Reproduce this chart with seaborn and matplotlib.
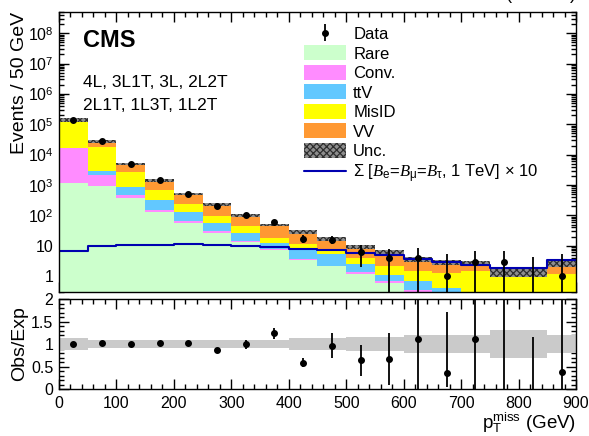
import matplotlib
matplotlib.use("Agg")
import matplotlib.pyplot as plt
from matplotlib.patches import Patch
from matplotlib.lines import Line2D
from matplotlib.ticker import MultipleLocator, LogLocator, FixedLocator, NullFormatter
import seaborn as sns
import numpy as np
import pandas as pd

# bin edges in p_T^miss (GeV)
edges = np.arange(0, 950, 50)
centers = edges[:-1] + 25

# stacked backgrounds (events per bin), bottom to top
rare = [1150, 950, 370, 133, 58, 27, 13, 7.1, 3.4, 2.1, 1.2, 0.6, 0.3, 0.05, 0.05, 0.0, 0.0, 0.0]
conv = [15800, 1200, 85, 17, 8, 3, 1.3, 0.5, 0.2, 0.1, 0.2, 0.1, 0.05, 0.0, 0.0, 0.0, 0.0, 0.0]
ttv = [200, 800, 435, 180, 64, 27, 12.7, 5.0, 4.5, 3.0, 1.1, 0.4, 0.35, 0.35, 0.2, 0.05, 0.0, 0.05]
misid = [118000, 15000, 1870, 370, 114, 41, 17, 5.8, 3.0, 2.4, 1.6, 1.0, 0.8, 0.9, 1.2, 1.35, 1.4, 1.1]
vv = [5000, 9500, 2300, 700, 260, 130, 56, 30, 18, 9.1, 5.3, 4.0, 2.1, 1.6, 1.25, 0.0, 0.0, 1.45]

# signal x 10
signal = [6.7, 10.2, 10.3, 10.8, 11.2, 10.5, 9.8, 9.3, 8.0, 7.1, 5.9, 5.0, 3.6, 3.0, 2.3, 1.9, 1.8, 3.4]

# observed data and its error bars as drawn
data = [140000, 28000, 5100, 1420, 515, 198, 100, 60, 17, 16, 6, 4, 4, 1, 3, 3, 0, 1]
data_err_lo = [370, 170, 70, 38, 23, 14, 10, 7.7, 4.5, 4.8, 4, 4, 4, 1, 3, 3, 0, 1]
data_err_hi = [370, 170, 70, 38, 23, 14, 10, 7.7, 5.4, 4.4, 4.3, 3.7, 4.6, 4.2, 3.7, 3.7, 4.4, 4.2]

# ratio panel error bars and relative background uncertainty
ratio_err_lo = [0.01, 0.01, 0.01, 0.01, 0.01, 0.01, 0.1, 0.12, 0.1, 0.26, 0.36, 0.57, 1.11, 0.31, 1.11, 2.14, 0.0, 0.38]
ratio_err_hi = [0.01, 0.01, 0.01, 0.01, 0.01, 0.01, 0.1, 0.12, 0.1, 0.29, 0.33, 0.59, 1.5, 1.37, 1.5, 1.0, 1.16, 1.6]
rel_unc = [0.13, 0.09, 0.09, 0.09, 0.09, 0.09, 0.09, 0.09, 0.13, 0.13, 0.16, 0.16, 0.21, 0.21, 0.21, 0.31, 0.31, 0.21]

processes = ["Rare", "Conv.", "ttV", "MisID", "VV"]
colors = {"Rare": "#ccffcc", "Conv.": "#ff8cff", "ttV": "#62c8ff",
          "MisID": "#ffff00", "VV": "#ff9933"}

sns.set_theme(style="ticks")
plt.rcParams["font.family"] = ["Liberation Sans", "DejaVu Sans"]
plt.rcParams["mathtext.fontset"] = "custom"
plt.rcParams["mathtext.rm"] = "Liberation Sans"
plt.rcParams["mathtext.it"] = "Liberation Serif:italic"
plt.rcParams["hatch.linewidth"] = 0.9
plt.rcParams["text.color"] = "black"
plt.rcParams["axes.labelcolor"] = "black"

long = pd.DataFrame({
    "pt": np.tile(centers, len(processes)),
    "events": np.concatenate([rare, conv, ttv, misid, vv]),
    "process": np.repeat(processes, len(centers)),
})

fig = plt.figure(figsize=(5.89, 4.36), dpi=100)
W, H = 589.0, 436.0
ax = fig.add_axes([59 / W, 1 - 292 / H, 517 / W, 280 / H])
rax = fig.add_axes([59 / W, 1 - 389 / H, 517 / W, 90 / H])

# stacked backgrounds (seaborn stacks the last hue level at the bottom)
sns.histplot(data=long, x="pt", weights="events", hue="process",
             hue_order=processes[::-1], palette=colors, multiple="stack",
             binwidth=50, binrange=(0, 900), element="bars", linewidth=0, alpha=1,
             legend=False, ax=ax)
ax.set_yscale("log")

total = np.sum([rare, conv, ttv, misid, vv], axis=0)
unc = np.array(rel_unc)
lo = total * (1 - unc)
hi = total * (1 + unc)
ax.fill_between(edges, np.append(lo, lo[-1]), np.append(hi, hi[-1]), step="post",
                facecolor="#8e8e8e", edgecolor="#2e2e2e", hatch="xxxxx", linewidth=0)

sns.histplot(x=centers, weights=signal, binwidth=50, binrange=(0, 900), element="step",
             fill=False, color="#0000b0", linewidth=1.5, ax=ax)

data = np.array(data, dtype=float)
has = data > 0
elo = np.minimum(np.array(data_err_lo), data - 1e-3)
ehi = np.array(data_err_hi)
dat = ax.errorbar(centers[has], data[has], yerr=[elo[has], ehi[has]], fmt="o",
                  color="black", ms=4, elinewidth=1.3, capsize=0, zorder=5)
ax.vlines(centers[~has], 1e-2, ehi[~has], color="black", lw=1.3, zorder=5)

ax.set_xlim(0, 900)
ax.set_ylim(0.3, 5e8)
ax.set_xlabel("")
ax.set_ylabel("Events / 50 GeV", fontsize=14, loc="top")
ax.yaxis.set_label_coords(-0.06, 1.0)
ax.xaxis.set_major_locator(MultipleLocator(100))
ax.xaxis.set_minor_locator(MultipleLocator(20))
ax.tick_params(axis="x", labelbottom=False)
ax.yaxis.set_major_locator(FixedLocator([1, 10, 1e2, 1e3, 1e4, 1e5, 1e6, 1e7, 1e8]))
ax.set_yticklabels(["1", "10"] + [r"$10^{%d}$" % k for k in range(2, 9)])
ax.yaxis.set_minor_locator(LogLocator(base=10, subs=np.arange(2, 10), numticks=20))
ax.yaxis.set_minor_formatter(NullFormatter())

ax.text(0.046, 0.875, "CMS", transform=ax.transAxes, fontsize=17,
        fontweight="bold", va="baseline")
ax.text(0.046, 0.731, "4L, 3L1T, 3L, 2L2T", transform=ax.transAxes,
        fontsize=12.5, va="baseline")
ax.text(0.046, 0.65, "2L1T, 1L3T, 1L2T", transform=ax.transAxes,
        fontsize=12.5, va="baseline")

handles = [dat] + [Patch(facecolor=colors[p], linewidth=0) for p in processes] + [
    Patch(facecolor="#8e8e8e", edgecolor="#2e2e2e", hatch="xxxxx", linewidth=0),
    Line2D([], [], color="#0000b0", lw=1.5)]
labels = ["Data"] + processes + [
    "Unc.",
    r"$\Sigma$ [$B_\mathrm{e}$=$B_\mathrm{\mu}$=$B_\mathrm{\tau}$, 1 TeV] $\times$ 10"]
ax.legend(handles, labels, loc="upper left", bbox_to_anchor=(0.474, 0.95),
          frameon=False, fontsize=12, handlelength=2.5, handleheight=1.0,
          labelspacing=0.2, handletextpad=0.45, borderpad=0, borderaxespad=0)

# ratio panel
ratio = data / total
rax.fill_between(edges, np.append(1 - unc, 1 - unc[-1]), np.append(1 + unc, 1 + unc[-1]),
                 step="post", color="#cacaca", linewidth=0)
rlo = np.array(ratio_err_lo)
rhi = np.array(ratio_err_hi)
rax.errorbar(centers[has], ratio[has], yerr=[rlo[has], rhi[has]], fmt="o",
             color="black", ms=4, elinewidth=1.3, capsize=0, zorder=5)
rax.vlines(centers[~has], 0, rhi[~has], color="black", lw=1.3, zorder=5)
rax.set_xlim(0, 900)
rax.set_ylim(0, 2)
rax.xaxis.set_major_locator(MultipleLocator(100))
rax.xaxis.set_minor_locator(MultipleLocator(20))
rax.set_yticks([0, 0.5, 1, 1.5, 2])
rax.set_yticklabels(["0", "0.5", "1", "1.5", "2"])
rax.yaxis.set_minor_locator(MultipleLocator(0.1))
rax.set_ylabel("Obs/Exp", fontsize=14)
rax.yaxis.set_label_coords(-0.06, 0.5)
rax.set_xlabel(r"p$_\mathrm{T}^\mathrm{miss}$ (GeV)", fontsize=13.5, loc="right")
rax.xaxis.set_label_coords(1.0, -0.235)

for a in (ax, rax):
    a.tick_params(which="both", direction="in", top=True, right=True,
                  labelsize=11.5, width=1, colors="black")
    a.tick_params(which="major", length=7, pad=4)
    a.tick_params(which="minor", length=3.5)
    for s in a.spines.values():
        s.set_linewidth(1)
        s.set_color("black")
rax.tick_params(axis="x", which="major", pad=5)

fig.text(576 / W, 1 - 6 / H, r"138 fb$^{-1}$ (13 TeV)", ha="right", va="bottom", fontsize=13)

fig.savefig("out.png", dpi=100)
